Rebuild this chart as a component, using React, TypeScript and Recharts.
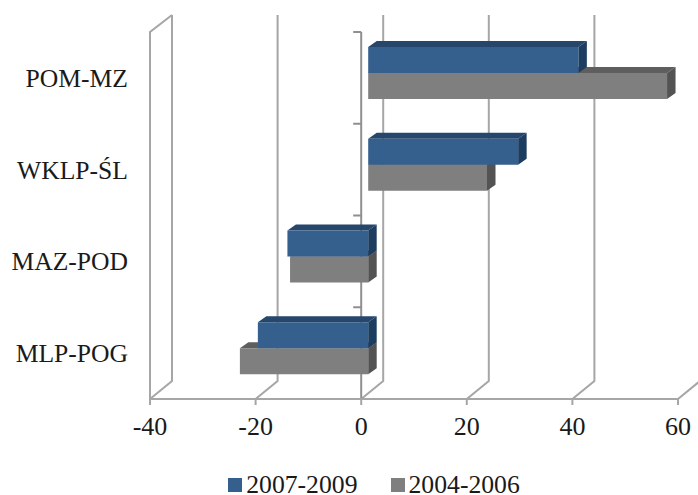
import React from "react";
import { BarChart, Bar, XAxis, YAxis, CartesianGrid, Legend } from "recharts";

const categories = ["POM-MZ", "WKLP-ŚL", "MAZ-POD", "MLP-POG"];
const series2007 = [39.8, 28.4, -15.3, -20.9];
const series2004 = [56.6, 22.5, -14.8, -24.3];
const xTicks = [-40, -20, 0, 20, 40, 60];
const name2007 = "2007-2009";
const name2004 = "2004-2006";
const legendOrder = [name2007, name2004];

const rows = categories.map((c, i) => ({ cat: c, a: series2007[i], b: series2004[i] }));

const FONT = "'Liberation Serif', serif";
const GRID = "#a6a6a6";
const AXIS = "#8f8f8f";
const DX = 8.5;
const DY = 6;
const BACK_X = 22;
const BACK_TOP = 17;
const BACK_BOTTOM = 18;
const BASE_SHIFT = 7;
const BAND_SHIFT = -5;

function bar3d(front: string, top: string, side: string, rowShift: number) {
  return (p: any) => {
    const l = Math.min(p.x, p.x + p.width) + BASE_SHIFT;
    const r = Math.max(p.x, p.x + p.width) + BASE_SHIFT;
    const t = p.y + BAND_SHIFT + rowShift * p.height;
    const b = t + p.height;
    return (
      <g>
        <polygon points={`${l},${t} ${l + DX},${t - DY} ${r + DX},${t - DY} ${r},${t}`} fill={top} />
        <polygon points={`${r},${t} ${r + DX},${t - DY} ${r + DX},${b - DY} ${r},${b}`} fill={side} />
        <rect x={l} y={t} width={r - l} height={b - t} fill={front} />
      </g>
    );
  };
}

function gridLine(p: any) {
  const { x1, y1, y2, index } = p;
  const isLeft = index === 0;
  const isZero = xTicks[index] === 0;
  const step = (y2 - y1) / categories.length;
  return (
    <g key={`g-${index}`}>
      <path
        d={`M${x1},${y2} L${x1 + BACK_X},${y2 - BACK_BOTTOM} L${x1 + BACK_X},${y1 - BACK_TOP}`}
        fill="none"
        stroke={GRID}
        strokeWidth={2}
      />
      {isLeft && (
        <path
          d={`M${x1},${y2} L${x1},${y1} L${x1 + BACK_X},${y1 - BACK_TOP}`}
          fill="none"
          stroke={GRID}
          strokeWidth={2}
        />
      )}
      {isZero && (
        <g stroke={AXIS} strokeWidth={2} fill="none">
          <path d={`M${x1},${y1} L${x1},${y2}`} />
          {[0, 1, 2, 3, 4].map((k) => (
            <path key={k} d={`M${x1 - 8},${y1 + k * step} L${x1},${y1 + k * step}`} />
          ))}
        </g>
      )}
    </g>
  );
}

function LegendBox(props: any) {
  const items = [...(props.payload || [])].sort(
    (a: any, b: any) => legendOrder.indexOf(a.value) - legendOrder.indexOf(b.value)
  );
  return (
    <div style={{ display: "flex", justifyContent: "center", gap: 33, fontFamily: FONT, fontSize: 25.7, color: "#1a1a1a", lineHeight: "20px", paddingLeft: 70, paddingTop: 6 }}>
      {items.map((it: any) => (
        <div key={it.value} style={{ display: "flex", alignItems: "center", gap: 4 }}>
          <span style={{ width: 14, height: 14, background: it.color, display: "inline-block" }} />
          <span>{it.value}</span>
        </div>
      ))}
    </div>
  );
}

export default function App() {
  return (
    <div style={{ position: "absolute", left: 0, top: 0, width: 698, height: 495, background: "#fff" }}>
      <BarChart
        width={698}
        height={495}
        data={rows}
        layout="vertical"
        barSize={26}
        barGap={0}
        margin={{ top: 32, right: 20, bottom: 0, left: 0 }}
      >
        <CartesianGrid horizontal={false} vertical={gridLine as any} />
        <XAxis
          type="number"
          domain={[-40, 60]}
          ticks={xTicks}
          height={70}
          interval={0}
          tickSize={6}
          tickMargin={12}
          axisLine={{ stroke: GRID, strokeWidth: 2 }}
          tickLine={{ stroke: GRID, strokeWidth: 2 }}
          tick={{ fontFamily: FONT, fontSize: 26, fill: "#1a1a1a" }}
        />
        <YAxis
          type="category"
          dataKey="cat"
          width={150}
          axisLine={false}
          tickLine={false}
          tickSize={0}
          tickMargin={22}
          tick={{ fontFamily: FONT, fontSize: 25.6, fill: "#1a1a1a" }}
        />
        <Bar dataKey="b" name={name2004} fill="#7f7f7f" isAnimationActive={false} shape={bar3d("#7f7f7f", "#5e5e5e", "#535353", 1)} />
        <Bar dataKey="a" name={name2007} fill="#355f8d" isAnimationActive={false} shape={bar3d("#355f8d", "#27466b", "#1c3d60", -1)} />
        <Legend height={26} content={<LegendBox />} />
      </BarChart>
    </div>
  );
}
